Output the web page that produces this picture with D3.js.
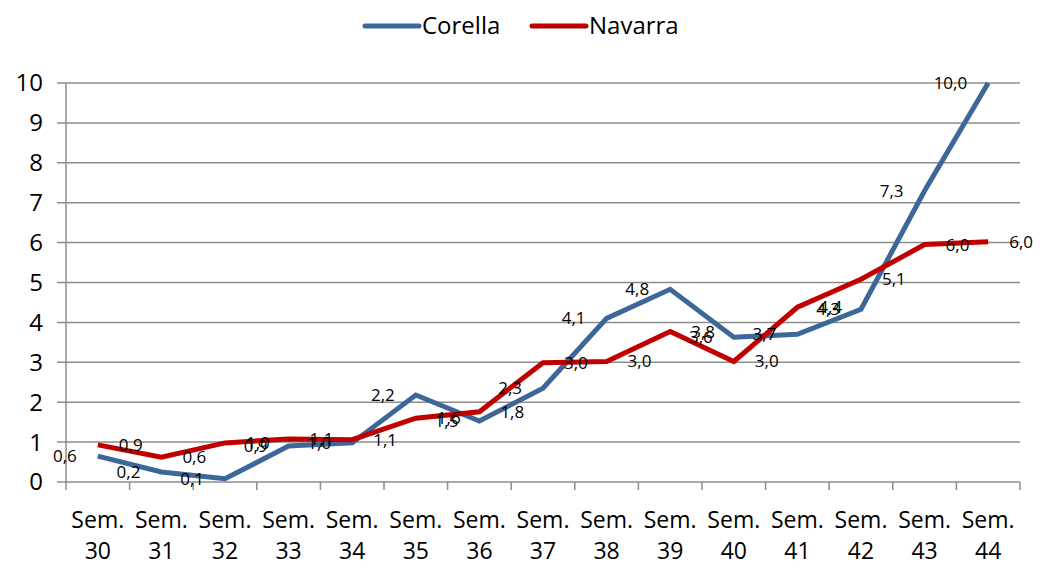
<!DOCTYPE html>
<html>
<head>
<meta charset="utf-8">
<script src="https://cdn.jsdelivr.net/npm/d3@7"></script>
<style>
	body { margin: 0; background: #fff; }
	svg { font-family: "Open Sans", "Liberation Sans", sans-serif; }
</style>
</head>
<body>
<svg id="chart" width="1040" height="567"></svg>
<script>
// weeks on the x axis
const weeks = ["30", "31", "32", "33", "34", "35", "36", "37", "38", "39", "40", "41", "42", "43", "44"];
const corella = [0.65, 0.25, 0.08, 0.9, 0.98, 2.18, 1.53, 2.35, 4.1, 4.83, 3.63, 3.7, 4.33, 7.3, 10.0];
const navarra = [0.93, 0.62, 0.98, 1.08, 1.06, 1.6, 1.76, 2.99, 3.02, 3.77, 3.02, 4.38, 5.08, 5.95, 6.02];
const corellaLabels = ["0,6", "0,2", "0,1", "0,9", "1,0", "2,2", "1,5", "2,3", "4,1", "4,8", "3,6", "3,7", "4,3", "7,3", "10,0"];
const navarraLabels = ["0,9", "0,6", "1,0", "1,1", "1,1", "1,6", "1,8", "3,0", "3,0", "3,8", "3,0", "4,4", "5,1", "6,0", "6,0"];
const yTicks = [0, 1, 2, 3, 4, 5, 6, 7, 8, 9, 10];

const series = [
	{ name: "Corella", values: corella, labels: corellaLabels, color: "#3d6699", side: -1 },
	{ name: "Navarra", values: navarra, labels: navarraLabels, color: "#c00000", side: 1 }
];

const svg = d3.select("#chart");
const plot = { left: 66, right: 1020, top: 83, bottom: 482 };

let x = d3.scaleBand().domain(weeks).range([plot.left, plot.right]);
let y = d3.scaleLinear().domain([0, 10]).range([plot.bottom, plot.top]);
let cx = function(d, i) { return x(weeks[i]) + x.bandwidth() / 2; };

// gridlines
svg.append("g")
	.selectAll("line")
	.data(yTicks)
	.enter()
	.append("line")
	.attr("x1", plot.left - 9)
	.attr("x2", plot.right)
	.attr("y1", d => y(d))
	.attr("y2", d => y(d))
	.attr("stroke", "#8c8c8c")
	.attr("stroke-width", 1.5);

// y axis line
svg.append("line")
	.attr("x1", plot.left).attr("x2", plot.left)
	.attr("y1", plot.top).attr("y2", plot.bottom + 8)
	.attr("stroke", "#8c8c8c").attr("stroke-width", 1.5);

// x ticks (band edges)
svg.append("g")
	.selectAll("line")
	.data(weeks)
	.enter()
	.append("line")
	.attr("x1", d => x(d) + x.bandwidth())
	.attr("x2", d => x(d) + x.bandwidth())
	.attr("y1", plot.bottom)
	.attr("y2", plot.bottom + 8)
	.attr("stroke", "#8c8c8c")
	.attr("stroke-width", 1.5);

// y tick labels
svg.append("g")
	.selectAll("text")
	.data(yTicks)
	.enter()
	.append("text")
	.attr("x", 43)
	.attr("y", d => y(d))
	.attr("dy", "0.35em")
	.attr("text-anchor", "end")
	.attr("font-size", 24)
	.attr("fill", "#000")
	.text(d => d);

// x labels, two lines
let xl = svg.append("g")
	.selectAll("text")
	.data(weeks)
	.enter()
	.append("text")
	.attr("text-anchor", "middle")
	.attr("font-size", 23)
	.attr("fill", "#000");
xl.append("tspan")
	.attr("x", d => x(d) + x.bandwidth() / 2)
	.attr("y", 528)
	.text("Sem.");
xl.append("tspan")
	.attr("x", d => x(d) + x.bandwidth() / 2)
	.attr("y", 559)
	.text(d => d);

// lines
let line = d3.line()
	.x((d, i) => cx(d, i))
	.y(d => y(d));

series.forEach(function(s) {
	svg.append("path")
		.datum(s.values)
		.attr("d", line)
		.attr("fill", "none")
		.attr("stroke", s.color)
		.attr("stroke-width", 5)
		.attr("stroke-linejoin", "miter");
});

// data labels
series.forEach(function(s) {
	svg.append("g")
		.selectAll("text")
		.data(s.values)
		.enter()
		.append("text")
		.attr("x", (d, i) => cx(d, i) + s.side * 21)
		.attr("y", d => y(d))
		.attr("dy", "0.35em")
		.attr("text-anchor", s.side < 0 ? "end" : "start")
		.attr("font-size", 17)
		.attr("fill", "#000")
		.text((d, i) => s.labels[i]);
});

// legend
let legend = svg.append("g");
let legendX = [365, 532];
series.forEach(function(s, i) {
	legend.append("line")
		.attr("x1", legendX[i]).attr("x2", legendX[i] + 54)
		.attr("y1", 26).attr("y2", 26)
		.attr("stroke", s.color)
		.attr("stroke-width", 5)
		.attr("stroke-linecap", "round");
	legend.append("text")
		.attr("x", legendX[i] + 57)
		.attr("y", 26)
		.attr("dy", "0.35em")
		.attr("font-size", 24)
		.attr("fill", "#000")
		.text(s.name);
});
</script>
</body>
</html>
